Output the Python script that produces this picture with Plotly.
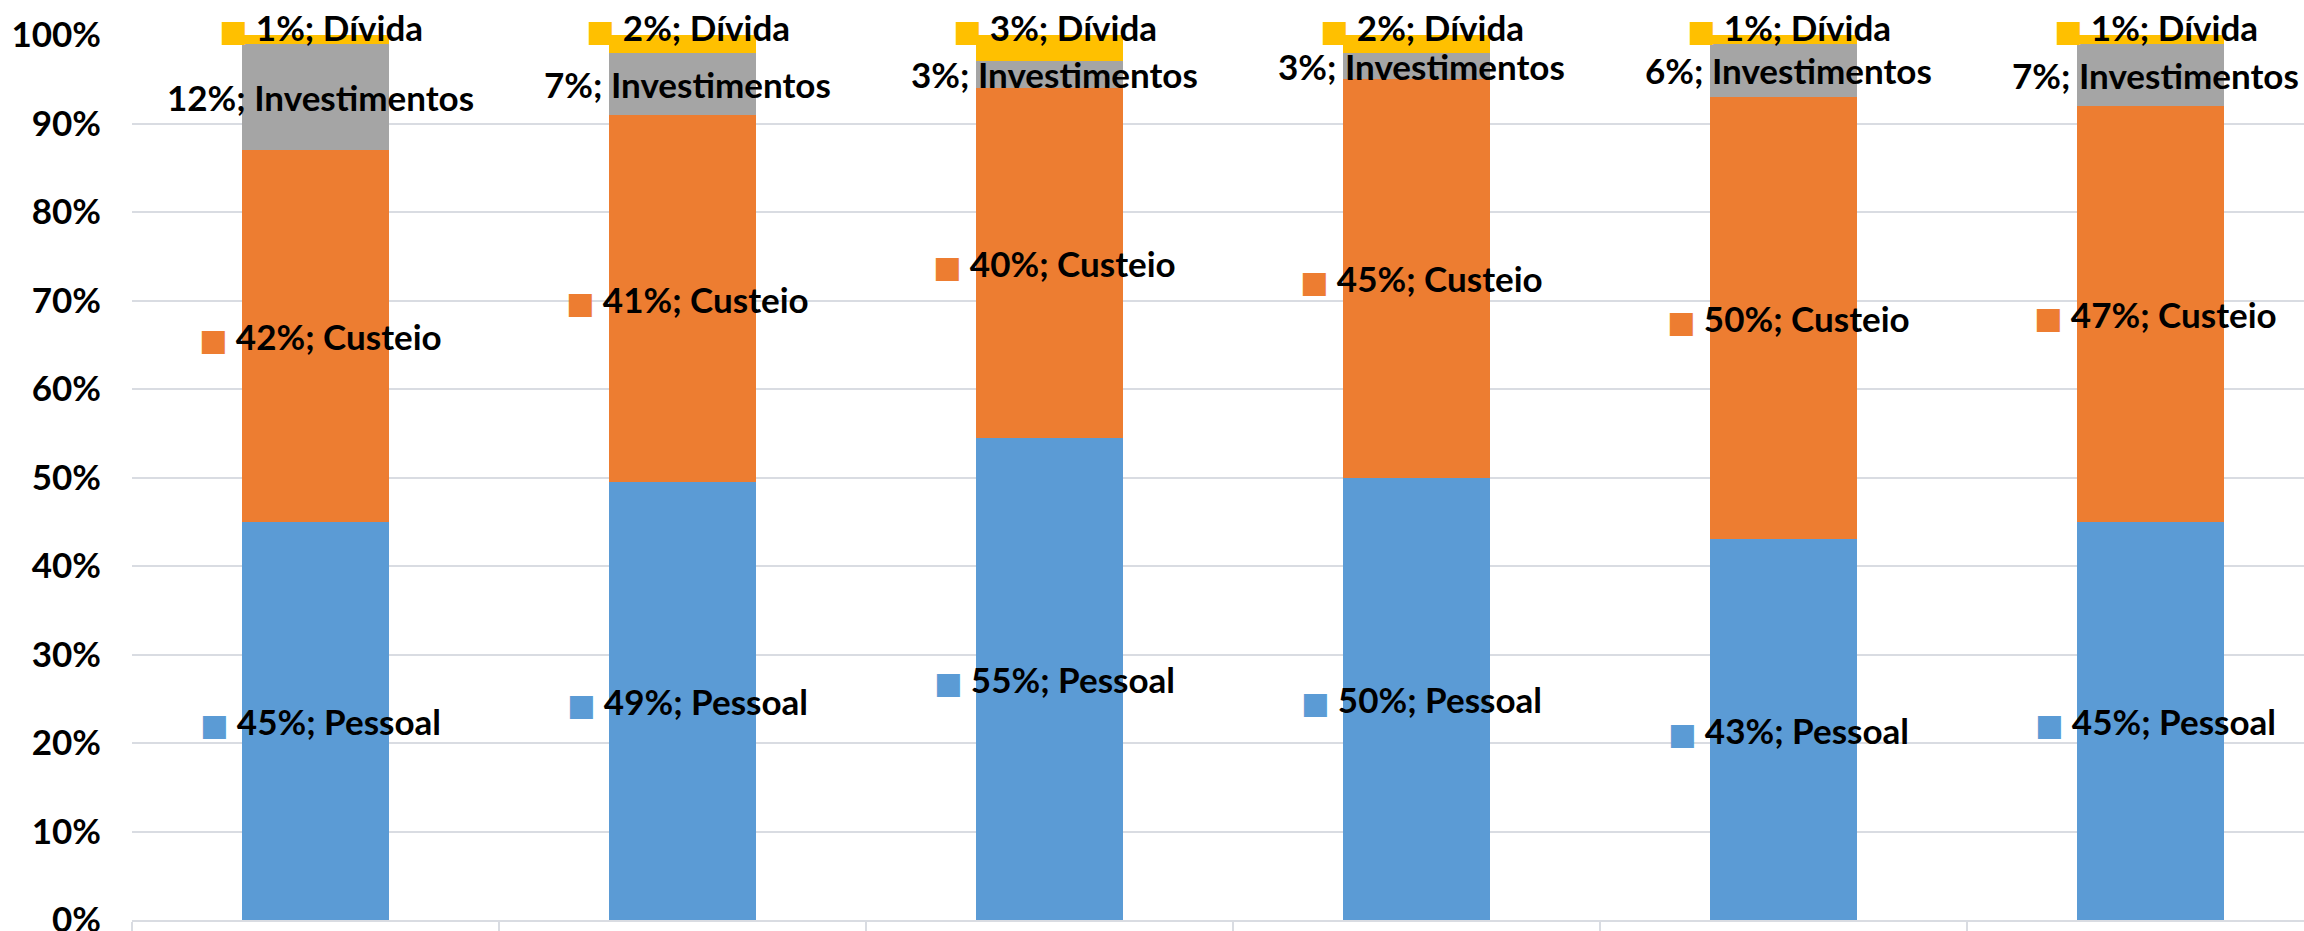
import plotly.graph_objects as go

# Budget composition per period (shares in %)
periods = [0, 1, 2, 3, 4, 5]
series_names = ["Pessoal", "Custeio", "Investimentos", "Dívida"]
pessoal = [45, 49, 55, 50, 43, 45]
custeio = [42, 41, 40, 45, 50, 47]
investimentos = [12, 7, 3, 3, 6, 7]
divida = [1, 2, 3, 2, 1, 1]
y_ticks = [0, 10, 20, 30, 40, 50, 60, 70, 80, 90, 100]

colors = ["#5B9BD5", "#ED7D31", "#A5A5A5", "#FFC000"]
show_key = [True, True, False, True]
series = [pessoal, custeio, investimentos, divida]

FONT = "Lato"
FS = 35
fig = go.Figure()
for name, vals, col in zip(series_names, series, colors):
    fig.add_trace(go.Bar(
        x=periods, y=vals, name=name, width=0.40,
        marker=dict(color=col, line=dict(width=0)),
        hoverinfo="skip",
    ))

# Data labels at the centre of each normalised segment
annotations = []
for i in range(len(periods)):
    total = sum(s[i] for s in series)
    base = 0.0
    for k, (name, vals, col) in enumerate(zip(series_names, series, colors)):
        share = vals[i] / total * 100
        centre = base + share / 2
        base += share
        label = f"{vals[i]}%; {name}"
        if show_key[k]:
            label = (f"<span style='color:{col};font-family:DejaVu Sans;font-size:30px'>■</span>"
                     f" {label}")
        yshift = 0
        yval = centre
        if name == "Dívida":
            yval = 100
            yshift = 8
        annotations.append(dict(
            x=periods[i], y=yval, xref="x", yref="y", text=label,
            showarrow=False, xanchor="center", yanchor="middle",
            xshift=5, yshift=yshift,
            font=dict(family=FONT, size=FS, color="#000000", weight="bold"),
        ))

fig.update_layout(
    barmode="stack", barnorm="percent",
    width=2304, height=931,
    margin=dict(l=132, r=0, t=35, b=11),
    paper_bgcolor="white", plot_bgcolor="white",
    showlegend=False,
    annotations=annotations,
    xaxis=dict(
        range=[-0.5, 5.418], showgrid=False, zeroline=False, automargin=False,
        showline=True, linecolor="#D9DCE2", linewidth=2,
        tickvals=[p - 0.5 for p in periods] + [periods[-1] + 0.5],
        ticks="outside", ticklen=10, tickcolor="#D9DCE2", tickwidth=2,
        showticklabels=False,
    ),
    yaxis=dict(
        range=[0, 100], tickvals=y_ticks, automargin=False,
        ticktext=[f"{v}%" for v in y_ticks],
        showgrid=True, gridcolor="#D9DCE2", gridwidth=2,
        zeroline=False, showline=False, ticks="",
        ticklabelstandoff=30, ticklabeloverflow="allow",
        tickfont=dict(family=FONT, size=FS, color="#000000", weight="bold"),
    ),
)

fig.write_html("out.html")
